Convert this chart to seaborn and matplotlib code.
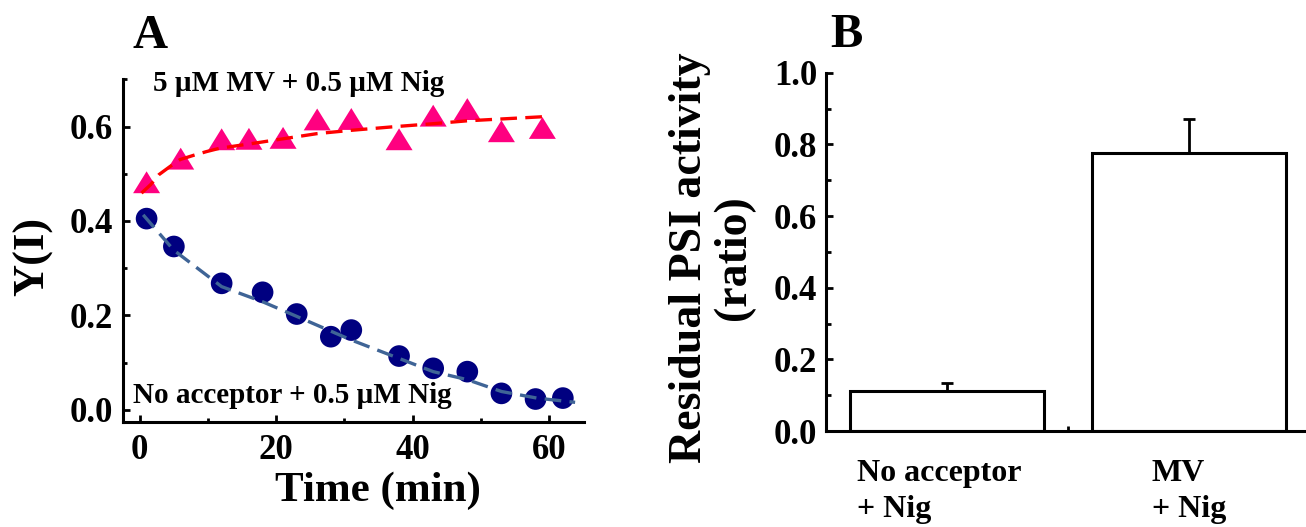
import numpy as np
import pandas as pd
import matplotlib
matplotlib.use("Agg")
import matplotlib.pyplot as plt
from matplotlib.markers import MarkerStyle
from matplotlib.ticker import MultipleLocator, FixedLocator
import seaborn as sns

# ---------------- data ----------------
# Panel A: Y(I) vs time
mv_time = [1, 6, 12, 16, 21, 26, 31, 38, 43, 48, 53, 59]
mv_yi = [0.482, 0.532, 0.573, 0.574, 0.576, 0.615, 0.616, 0.573, 0.623, 0.637, 0.590, 0.597]

noacc_time = [1, 5, 12, 18, 23, 28, 31, 38, 43, 48, 53, 58, 62]
noacc_yi = [0.405, 0.346, 0.268, 0.249, 0.203, 0.155, 0.169, 0.114, 0.088, 0.081, 0.035, 0.023, 0.025]

# fitted curves (dashed)
mv_fit_time = [0.25, 1.6, 2.8, 4.4, 5.9, 8.1, 9.8, 11.7, 16, 21, 26, 31, 37.6, 43, 47.9, 53, 59.4]
mv_fit_yi = [0.459, 0.477, 0.498, 0.515, 0.530, 0.540, 0.547, 0.554, 0.563, 0.574, 0.585, 0.592,
             0.600, 0.606, 0.612, 0.616, 0.621]

noacc_fit_time = [0.5, 5, 12, 18, 23, 31, 38, 43, 48, 53, 58.2, 63.8]
noacc_fit_yi = [0.413, 0.338, 0.261, 0.229, 0.198, 0.148, 0.109, 0.081, 0.064, 0.039, 0.025, 0.016]

# Panel B: residual PSI activity
categories = ["No acceptor\n+ Nig", "MV\n+ Nig"]
residual = [0.112, 0.775]
residual_err = [0.021, 0.096]

# ---------------- style ----------------
sns.set_theme(style="ticks")
plt.rcParams["font.family"] = ["Liberation Serif", "DejaVu Serif"]
plt.rcParams["font.weight"] = "bold"
plt.rcParams["axes.labelweight"] = "bold"
plt.rcParams["text.color"] = "black"
plt.rcParams["axes.labelcolor"] = "black"
plt.rcParams["xtick.color"] = "black"
plt.rcParams["ytick.color"] = "black"
plt.rcParams["axes.edgecolor"] = "black"

FW = 1306
FH = 527
fig = plt.figure(figsize=(FW / 100, FH / 100), dpi=100)

# axes placed by pixel geometry of the reference
axA = fig.add_axes([122.7 / FW, (FH - 421.7) / FH, (584 - 122.7) / FW, (421.7 - 79.3) / FH])
axB = fig.add_axes([825.7 / FW, (FH - 431) / FH, (1310 - 825.7) / FW, (431 - 72.7) / FH])

# ---------------- Panel A ----------------
tri = MarkerStyle([(-1.0, -0.81), (1.0, -0.81), (0.0, 0.81)])
sns.scatterplot(x=mv_time, y=mv_yi, ax=axA, marker=tri, s=378, color="#FF0080",
                edgecolor="none", linewidth=0, zorder=3, legend=False)
sns.scatterplot(x=noacc_time, y=noacc_yi, ax=axA, marker="o", s=243, color="#000080",
                edgecolor="none", linewidth=0, zorder=3, legend=False)
sns.lineplot(x=mv_fit_time, y=mv_fit_yi, ax=axA, color="#FF0000", lw=2.4,
             linestyle=(0, (5, 2.5)), sort=False, estimator=None, zorder=4, legend=False)
sns.lineplot(x=noacc_fit_time, y=noacc_fit_yi, ax=axA, color="#3F6496", lw=2.4,
             linestyle=(0, (5, 2.5)), sort=False, estimator=None, zorder=4, legend=False)

axA.set_xlim(-2.5, 65.1)
axA.set_ylim(-0.025, 0.70)
axA.xaxis.set_major_locator(MultipleLocator(20))
axA.xaxis.set_minor_locator(MultipleLocator(10))
axA.yaxis.set_major_locator(FixedLocator([0.0, 0.2, 0.4, 0.6]))
axA.yaxis.set_minor_locator(FixedLocator([0.1, 0.3, 0.5, 0.7]))
axA.xaxis.set_major_formatter(matplotlib.ticker.FuncFormatter(lambda v, p: f"{v:.0f}"))
axA.yaxis.set_major_formatter(matplotlib.ticker.FuncFormatter(lambda v, p: f"{v:.1f}"))
axA.tick_params(axis="both", which="both", direction="in", width=2, colors="black")
axA.tick_params(axis="both", which="major", length=5, labelsize=25)
axA.tick_params(axis="both", which="minor", length=3)
axA.tick_params(axis="x", which="major", pad=9)
axA.tick_params(axis="y", which="major", pad=7)
for side in ["top", "right"]:
    axA.spines[side].set_visible(False)
for side in ["left", "bottom"]:
    axA.spines[side].set_linewidth(2.2)
    axA.spines[side].set_color("black")
axA.set_xlabel("Time (min)", fontsize=31, fontweight="bold", color="black")
axA.xaxis.set_label_coords(0.553, -0.145)
axA.set_ylabel("Y(I)", fontsize=32, fontweight="bold", color="black")
axA.yaxis.set_label_coords(-0.150, 0.483)
axA.text(23.3, 0.676, "5 \u00b5M MV + 0.5 \u00b5M Nig", ha="center", va="baseline",
         fontsize=21, fontweight="bold", color="black")
axA.text(22.4, 0.015, "No acceptor + 0.5 \u00b5M Nig", ha="center", va="baseline",
         fontsize=21, fontweight="bold", color="black", zorder=2)

# ---------------- Panel B ----------------
dfB = pd.DataFrame({"group": categories, "value": residual})
sns.barplot(data=dfB, x="group", y="value", ax=axB, color="white", edgecolor="black",
            linewidth=2.2, width=0.8, errorbar=None, saturation=1, zorder=2)
axB.errorbar(x=[0, 1], y=residual, yerr=[[0, 0], residual_err], fmt="none",
             ecolor="black", elinewidth=2, capsize=4, capthick=2, zorder=1)

axB.set_xlim(-0.5, 1.5)
axB.set_ylim(0, 1.0)
axB.yaxis.set_major_locator(MultipleLocator(0.2))
axB.yaxis.set_minor_locator(MultipleLocator(0.1))
axB.yaxis.set_major_formatter(matplotlib.ticker.FuncFormatter(lambda v, p: f"{v:.1f}"))
axB.xaxis.set_minor_locator(FixedLocator([0.5]))
axB.tick_params(axis="both", which="both", direction="in", width=2, colors="black")
axB.tick_params(axis="y", which="major", length=5, labelsize=25, pad=6)
axB.tick_params(axis="y", which="minor", length=3.6)
axB.tick_params(axis="x", which="major", length=3, labelsize=23, pad=20)
axB.tick_params(axis="x", which="minor", length=3.5)
for lbl in axB.get_xticklabels():
    lbl.set_multialignment("left")
    lbl.set_linespacing(1.35)
    lbl.set_fontweight("bold")
    lbl.set_x(lbl.get_position()[0])
axB.set_xticks([0, 1])
axB.set_xticklabels(categories, multialignment="left", linespacing=1.35, fontweight="bold")
for lbl, dx in zip(axB.get_xticklabels(), [-8, 0]):
    lbl.set_transform(lbl.get_transform() + matplotlib.transforms.ScaledTranslation(dx / 100, 0, fig.dpi_scale_trans))
for side in ["top", "right"]:
    axB.spines[side].set_visible(False)
for side in ["left", "bottom"]:
    axB.spines[side].set_linewidth(2.2)
    axB.spines[side].set_color("black")
axB.set_xlabel("")
axB.set_ylabel("Residual PSI activity\n(ratio)", fontsize=33, fontweight="bold",
               color="black", linespacing=1.05)
axB.yaxis.set_label_coords(-0.146, 0.485)

# panel letters
fig.text(150.5 / FW, 1 - 48 / FH, "A", ha="center", va="baseline", fontsize=35, fontweight="bold", color="black")
fig.text(846 / FW, 1 - 47 / FH, "B", ha="center", va="baseline", fontsize=35, fontweight="bold", color="black")

fig.savefig("out.png", dpi=100, facecolor="white")
